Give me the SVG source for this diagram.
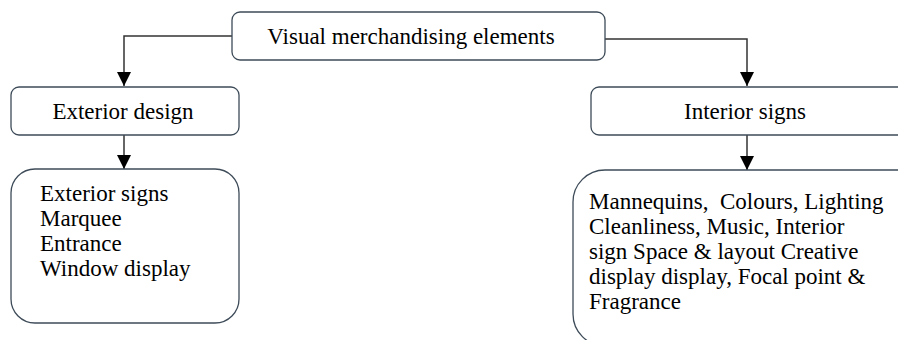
<svg xmlns="http://www.w3.org/2000/svg" width="898" height="340" viewBox="0 0 898 340">
<style>
.box{fill:#fff;stroke:#3d4b58;stroke-width:1.3}
.t{font-family:"Liberation Serif","Times New Roman",serif;font-size:23px;fill:#000}
.c{fill:none;stroke:#333;stroke-width:1.5}
</style>
<defs>
<marker id="ah" markerUnits="userSpaceOnUse" markerWidth="14" markerHeight="14" refX="14" refY="7" orient="auto">
<path d="M0,0 L14,7 L0,14 z" fill="#000"/>
</marker>
</defs>
<rect width="898" height="340" fill="#fff"/>
<g id="connectors">
<path class="c" d="M232,36 H124 V86" marker-end="url(#ah)"/>
<path class="c" d="M605,39 H747 V86" marker-end="url(#ah)"/>
<path class="c" d="M124,135 V169" marker-end="url(#ah)"/>
<path class="c" d="M747,135 V170" marker-end="url(#ah)"/>
</g>
<g id="root">
<rect class="box" x="232" y="12" width="373" height="48" rx="8"/>
<text class="t" x="411" y="44" text-anchor="middle">Visual merchandising elements</text>
</g>
<g id="exterior">
<rect class="box" x="11" y="87" width="228" height="48" rx="8"/>
<text class="t" x="123" y="119" text-anchor="middle">Exterior design</text>
</g>
<g id="interior">
<rect class="box" x="591" y="87" width="320" height="48" rx="8"/>
<text class="t" x="745" y="119" text-anchor="middle">Interior signs</text>
</g>
<g id="exterior-list">
<rect class="box" x="11" y="169" width="228" height="154" rx="24"/>
<text class="t" x="40" y="201">Exterior signs</text>
<text class="t" x="40" y="226">Marquee</text>
<text class="t" x="40" y="251">Entrance</text>
<text class="t" x="40" y="276">Window display</text>
</g>
<g id="interior-list">
<rect class="box" x="573" y="170" width="360" height="176" rx="32"/>
<text class="t" x="589" y="209" xml:space="preserve">Mannequins,  Colours, Lighting</text>
<text class="t" x="589" y="234">Cleanliness, Music, Interior</text>
<text class="t" x="589" y="259">sign Space &amp; layout Creative</text>
<text class="t" x="589" y="284">display display, Focal point &amp;</text>
<text class="t" x="589" y="309">Fragrance</text>
</g>
</svg>
